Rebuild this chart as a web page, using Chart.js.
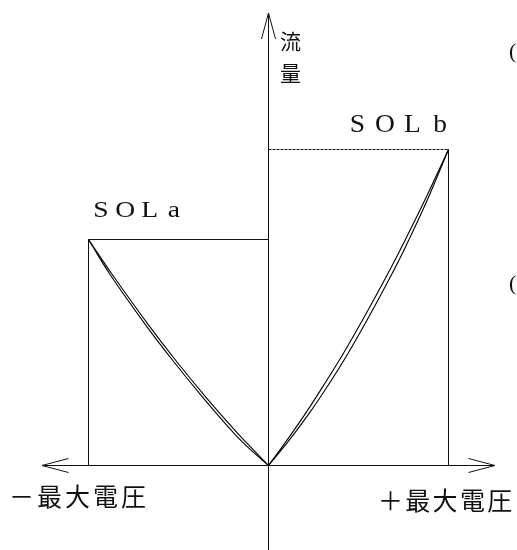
<!DOCTYPE html>
<html>
<head>
<meta charset="utf-8">
<script src="https://cdn.jsdelivr.net/npm/chart.js@4.4.0/dist/chart.umd.min.js"></script>
<style>
html,body{margin:0;padding:0;background:#fff;}
canvas{display:block;}
</style>
</head>
<body>
<canvas id="c" width="517" height="550"></canvas>
<script>
// ---- data (voltage normalised to max voltage, flow normalised to SOLb max) ----
const seriesNames = ["SOLa", "SOLb"];
const axisLabelY = ["流", "量"];
const axisLabelNeg = "－最大電圧";
const axisLabelPos = "＋最大電圧";
const maxFlowA = 0.7152;
const maxFlowB = 1.0;

// SOL a (negative voltage side), two nearly coincident curves
const flowA  = [0, 0.050, 0.101, 0.211, 0.326, 0.446, 0.606, 0.7152];
const voltA1 = [0, -0.085, -0.170, -0.340, -0.506, -0.668, -0.870, -1.0];
const voltA2 = [0, -0.100, -0.190, -0.358, -0.523, -0.684, -0.882, -1.0];

// SOL b (positive voltage side), two nearly coincident curves
const flowB  = [0, 0.078, 0.164, 0.257, 0.353, 0.466, 0.572, 0.667, 0.760, 0.861, 1.0];
const voltB1 = [0, 0.100, 0.205, 0.310, 0.414, 0.528, 0.630, 0.718, 0.800, 0.886, 1.0];
const voltB2 = [0, 0.112, 0.225, 0.335, 0.440, 0.553, 0.654, 0.740, 0.818, 0.898, 1.0];

// axis extents (arrow tips)
const axisXTip = 1.2583;
const axisYTip = 1.432;
const axisYBottom = -0.28;
const arrowHalfX = 0.0389, arrowLenY = 0.0823;   // vertical arrow head
const arrowHalfY = 0.0222, arrowLenX = 0.1472;   // horizontal arrow heads

// ---- build datasets ----
const pts = (xs, ys) => xs.map((x, i) => ({x: x, y: ys[i]}));
const sortX = a => a.slice().sort((p, q) => p.x - q.x);

const base = {showLine: true, pointRadius: 0, borderColor: '#111', borderWidth: 1, fill: false, tension: 0, clip: false};
const curve = {tension: 0.35, borderWidth: 1.1, borderColor: '#000'};

const datasets = [
  // axes
  Object.assign({}, base, {data: [{x: 0, y: axisYBottom}, {x: 0, y: axisYTip}]}),
  Object.assign({}, base, {data: [{x: -axisXTip, y: 0}, {x: axisXTip, y: 0}]}),
  // arrow heads
  Object.assign({}, base, {data: [{x: -arrowHalfX, y: axisYTip - arrowLenY}, {x: 0, y: axisYTip}, {x: arrowHalfX, y: axisYTip - arrowLenY}]}),
  Object.assign({}, base, {data: [{x: -axisXTip + arrowLenX, y: arrowHalfY}, {x: -axisXTip, y: 0}, {x: -axisXTip + arrowLenX, y: -arrowHalfY}]}),
  Object.assign({}, base, {data: [{x: axisXTip - arrowLenX, y: arrowHalfY}, {x: axisXTip, y: 0}, {x: axisXTip - arrowLenX, y: -arrowHalfY}]}),
  // SOL a frame
  Object.assign({}, base, {data: [{x: -1, y: 0}, {x: -1, y: maxFlowA}, {x: 0, y: maxFlowA}]}),
  // SOL b frame
  Object.assign({}, base, {data: [{x: 1, y: 0}, {x: 1, y: maxFlowB}]}),
  Object.assign({}, base, {borderColor: '#111', borderDash: [3, 1], data: [{x: 0, y: maxFlowB}, {x: 1, y: maxFlowB}]}),
  // curves
  Object.assign({}, base, curve, {data: sortX(pts(voltA1, flowA))}),
  Object.assign({}, base, curve, {data: sortX(pts(voltA2, flowA))}),
  Object.assign({}, base, curve, {data: sortX(pts(voltB1, flowB))}),
  Object.assign({}, base, curve, {data: sortX(pts(voltB2, flowB))})
];

const textPlugin = {
  id: 'texts',
  afterDatasetsDraw(chart) {
    const ctx = chart.ctx;
    const xs = chart.scales.x, ys = chart.scales.y;
    ctx.save();
    ctx.fillStyle = '#111';
    const cjk = '"Noto Sans CJK JP", sans-serif';
    const serif = '"Liberation Serif", "DejaVu Serif", serif';
    const drawSpaced = (str, font, startX, pitch, baseY, align, sx) => {
      ctx.font = font;
      ctx.textAlign = align;
      ctx.textBaseline = 'alphabetic';
      Array.from(str).forEach((ch, i) => {
        ctx.save();
        ctx.translate(startX + i * pitch, baseY);
        ctx.scale(sx || 1, 1);
        ctx.fillText(ch, 0, 0);
        ctx.restore();
      });
    };
    // SOL labels, spaced like full-width characters
    drawSpaced(seriesNames[0], '24px ' + serif, xs.getPixelForValue(-1) + 12.5, 24.3, ys.getPixelForValue(maxFlowA) - 22, 'center', 1.15);
    drawSpaced(seriesNames[1], '25px ' + serif, xs.getPixelForValue(1) - 8.5 - 27.5 * 3, 27.5, ys.getPixelForValue(maxFlowB) - 18, 'center', 1.1);
    // vertical axis label
    ctx.font = '21px ' + cjk;
    ctx.textAlign = 'center';
    ctx.textBaseline = 'middle';
    const ax = xs.getPixelForValue(0) + 22;
    const ay = ys.getPixelForValue(axisYTip);
    ctx.fillText(axisLabelY[0], ax, ay + 28);
    ctx.fillText(axisLabelY[1], ax, ay + 60);
    // horizontal axis labels
    const y0 = ys.getPixelForValue(0);
    drawSpaced(axisLabelNeg, '25px ' + cjk, 9, 28, y0 + 40, 'left');
    drawSpaced(axisLabelPos, '25px ' + cjk, 378, 27.3, y0 + 44, 'left');
    // parentheses at right margin
    ctx.font = '22px ' + serif;
    ctx.textAlign = 'left';
    ctx.textBaseline = 'alphabetic';
    ctx.fillText('(', 509, 58);
    ctx.fillText('(', 509, 290);
    ctx.restore();
  }
};

new Chart(document.getElementById('c'), {
  type: 'scatter',
  data: {datasets: datasets},
  options: {
    responsive: false,
    animation: false,
    devicePixelRatio: 1,
    layout: {padding: 0},
    plugins: {legend: {display: false}, tooltip: {enabled: false}},
    scales: {
      x: {type: 'linear', display: false, min: -268.5 / 180, max: 248.5 / 180},
      y: {type: 'linear', display: false, min: -84.5 / 316, max: 465.5 / 316}
    }
  },
  plugins: [textPlugin]
});
</script>
</body>
</html>
